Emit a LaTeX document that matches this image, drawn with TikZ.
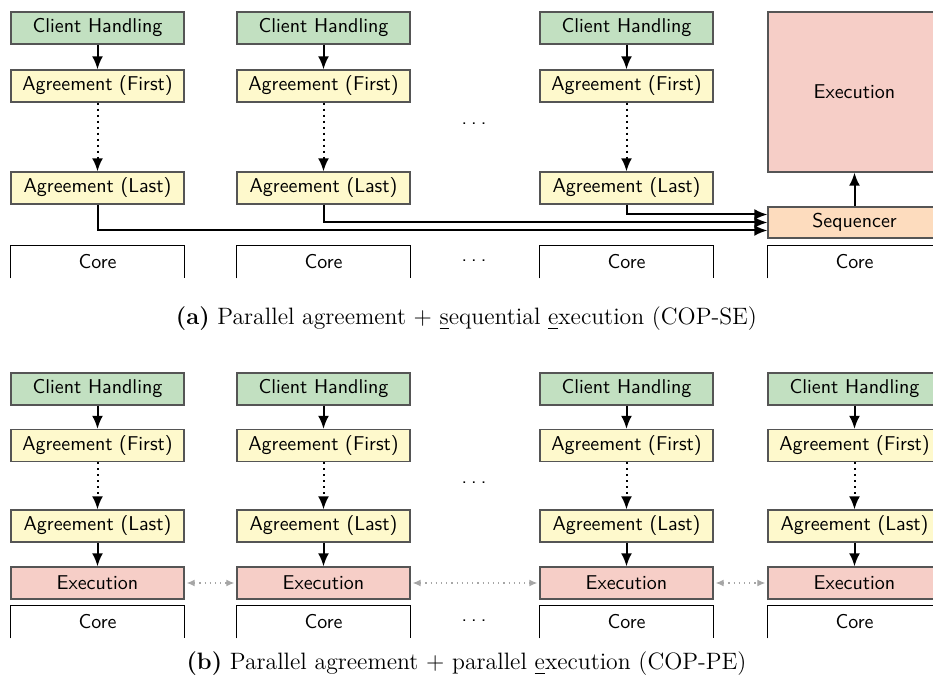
\documentclass[tikz,border=0pt]{standalone}
\usetikzlibrary{arrows.meta}
\definecolor{chgreen}{RGB}{194,224,193}
\definecolor{agyellow}{RGB}{254,249,204}
\definecolor{exred}{RGB}{246,206,199}
\definecolor{sqorange}{RGB}{253,220,190}
\definecolor{boxline}{RGB}{85,85,85}
\begin{document}
\begin{tikzpicture}[x=0.5pt,y=-0.5pt,
  box/.style={draw=boxline, line width=0.7pt, minimum width=86.5pt, minimum height=16pt, inner sep=0pt, font=\sffamily},
  ch/.style={box, fill=chgreen},
  ag/.style={box, fill=agyellow},
  ex/.style={box, fill=exred},
  sq/.style={box, fill=sqorange, minimum height=15.5pt},
  corelbl/.style={minimum width=86.5pt, minimum height=16pt, inner sep=0pt, font=\sffamily},
  coreline/.style={draw=black, line width=0.7pt},
  flow/.style={-{Latex[length=6.5pt,width=5.5pt]}, line width=1pt},
  dflow/.style={flow, dotted},
  sync/.style={{Latex[length=4pt,width=3.5pt]}-{Latex[length=4pt,width=3.5pt]}, draw=black!35, line width=0.6pt, dotted, shorten >=1pt, shorten <=1pt},
  dots/.style={font=\sffamily, inner sep=0pt},
  capt/.style={font=\fontsize{11.85}{14}\selectfont, inner sep=0pt}]
\useasboundingbox (0,0) rectangle (933,689);

% ---------- (a) ----------
\foreach \i/\x in {1/97.5,2/323.5,3/626.5}{
  \node[ch] (ach\i) at (\x,28) {Client Handling};
  \node[ag] (aaf\i) at (\x,86) {Agreement (First)};
  \node[ag] (aal\i) at (\x,188) {Agreement (Last)};
  \node[corelbl] (acore\i) at (\x,262) {Core};
  \draw[coreline] (acore\i.south west) -- (acore\i.north west) -- (acore\i.north east) -- (acore\i.south east);
  \draw[flow] (ach\i) -- (aaf\i);
  \draw[dflow] (aaf\i) -- (aal\i);
}
\node[ex, minimum height=80pt] (aexec) at (854.5,92) {Execution};
\node[sq] (aseq) at (854.5,222.5) {Sequencer};
\node[corelbl] (acore4) at (854.5,262) {Core};
\draw[coreline] (acore4.south west) -- (acore4.north west) -- (acore4.north east) -- (acore4.south east);
\draw[flow] (aseq) -- (aexec);
\draw[flow] (aal1.south) |- ([yshift=-4pt]aseq.west);
\draw[flow] (aal2.south) |- (aseq.west);
\draw[flow] (aal3.south) |- ([yshift=4pt]aseq.west);
\node[dots] (adots1) at (474,124) {.\kern2pt.\kern2pt.};
\node[dots] (adots2) at (474,261) {.\kern2pt.\kern2pt.};
\node[capt] (capa) at (466.5,319) {\textbf{(a)} Parallel agreement $+$ \underline{s}equential \underline{e}xecution (COP-SE)};

% ---------- (b) ----------
\foreach \i/\x in {1/97.5,2/323.5,3/626.5,4/854.5}{
  \node[ch] (bch\i) at (\x,389) {Client Handling};
  \node[ag] (baf\i) at (\x,445.5) {Agreement (First)};
  \node[ag] (bal\i) at (\x,526) {Agreement (Last)};
  \node[ex] (bex\i) at (\x,583) {Execution};
  \node[corelbl] (bcore\i) at (\x,622) {Core};
  \draw[coreline] (bcore\i.south west) -- (bcore\i.north west) -- (bcore\i.north east) -- (bcore\i.south east);
  \draw[flow] (bch\i) -- (baf\i);
  \draw[dflow] (baf\i) -- (bal\i);
  \draw[flow] (bal\i) -- (bex\i);
}
\draw[sync] (bex1) -- (bex2);
\draw[sync] (bex2) -- (bex3);
\draw[sync] (bex3) -- (bex4);
\node[dots] (bdots1) at (474,483) {.\kern2pt.\kern2pt.};
\node[dots] (bdots2) at (474,621) {.\kern2pt.\kern2pt.};
\node[capt] (capb) at (466.5,664) {\textbf{(b)} Parallel agreement $+$ parallel \underline{e}xecution (COP-PE)};
\end{tikzpicture}
\end{document}
